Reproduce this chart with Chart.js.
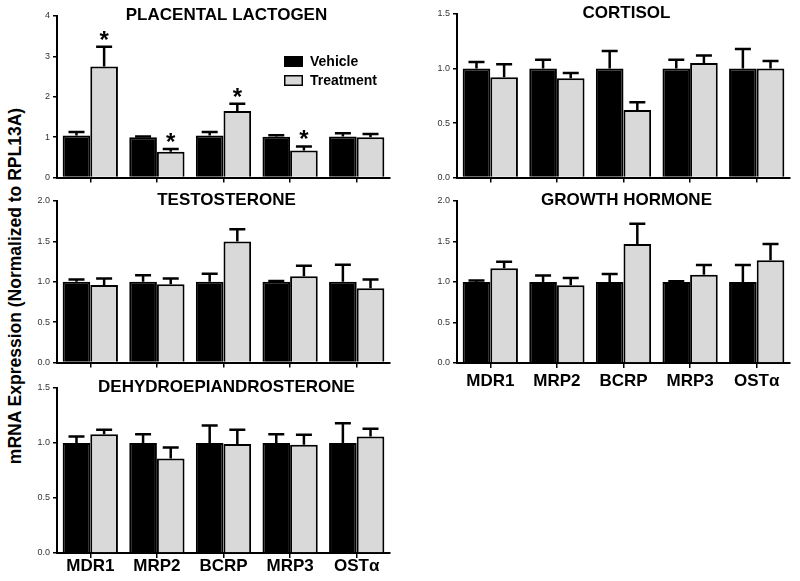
<!DOCTYPE html>
<html>
<head>
<meta charset="utf-8">
<script src="https://cdn.jsdelivr.net/npm/chart.js@4.4.1/dist/chart.umd.min.js"></script>
<style>
  body { margin: 0; background: #fff; }
  #wrap { position: relative; width: 800px; height: 581px; overflow: hidden; font-family: "Liberation Sans", Arial, sans-serif; }
  #wrap canvas { position: absolute; }
  #ytitle {
    position: absolute; left: -185px; top: 276px; width: 400px; height: 20px; line-height: 20px;
    text-align: center; font-weight: bold; font-size: 17.5px; color: #000;
    transform: rotate(-90deg);
  }
</style>
</head>
<body>
<div id="wrap">
  <div id="ytitle">mRNA Expression (Normalized to RPL13A)</div>
  <canvas id="pl" width="368" height="184" style="left:27px;top:2px"></canvas>
  <canvas id="cort" width="370" height="186" style="left:427px;top:0px"></canvas>
  <canvas id="test" width="368" height="184" style="left:27px;top:187px"></canvas>
  <canvas id="gh" width="370" height="206" style="left:427px;top:187px"></canvas>
  <canvas id="dhea" width="368" height="207" style="left:27px;top:374px"></canvas>
</div>
<script>
const categories = ['MDR1', 'MRP2', 'BCRP', 'MRP3', 'OSTα'];
const seriesNames = ['Vehicle', 'Treatment'];

// placental lactogen
const plVehicle = [1.04, 1.00, 1.04, 1.01, 1.02];
const plVehicleErr = [0.09, 0.02, 0.09, 0.04, 0.08];
const plTreatment = [2.75, 0.64, 1.65, 0.67, 1.00];
const plTreatmentErr = [0.49, 0.07, 0.18, 0.10, 0.08];
const plStars = [true, true, true, true, false];

// cortisol
const cortVehicle = [1.00, 1.00, 1.00, 1.00, 1.00];
const cortVehicleErr = [0.06, 0.08, 0.16, 0.08, 0.18];
const cortTreatment = [0.92, 0.91, 0.62, 1.05, 1.00];
const cortTreatmentErr = [0.12, 0.05, 0.07, 0.07, 0.07];

// testosterone
const testVehicle = [1.00, 1.00, 1.00, 1.00, 1.00];
const testVehicleErr = [0.03, 0.08, 0.10, 0.01, 0.21];
const testTreatment = [0.96, 0.97, 1.50, 1.07, 0.92];
const testTreatmentErr = [0.08, 0.07, 0.15, 0.13, 0.11];

// growth hormone
const ghVehicle = [1.00, 1.00, 1.00, 1.00, 1.00];
const ghVehicleErr = [0.02, 0.08, 0.10, 0.01, 0.21];
const ghTreatment = [1.17, 0.96, 1.47, 1.09, 1.27];
const ghTreatmentErr = [0.08, 0.09, 0.25, 0.12, 0.20];

// dehydroepiandrosterone
const dheaVehicle = [1.00, 1.00, 1.00, 1.00, 1.00];
const dheaVehicleErr = [0.06, 0.08, 0.16, 0.08, 0.18];
const dheaTreatment = [1.08, 0.86, 0.99, 0.985, 1.06];
const dheaTreatmentErr = [0.04, 0.10, 0.13, 0.09, 0.07];

const FONT = '"Liberation Sans", Arial, sans-serif';
const GRAY = '#d9d9d9';

// draws the upper whiskers, the asterisks, the panel title and (optionally) the legend
const panelPlugin = {
  id: 'panel',
  afterDatasetsDraw(chart, args, opts) {
    const ctx = chart.ctx;
    const y = chart.scales.y;
    const area = chart.chartArea;
    ctx.save();
    ctx.strokeStyle = '#000';
    ctx.lineWidth = 2.5;
    chart.data.datasets.forEach((ds, di) => {
      const meta = chart.getDatasetMeta(di);
      meta.data.forEach((bar, i) => {
        const top = y.getPixelForValue(ds.data[i] + ds.errors[i]);
        ctx.beginPath();
        ctx.moveTo(bar.x, bar.y);
        ctx.lineTo(bar.x, top);
        ctx.moveTo(bar.x - 8, top);
        ctx.lineTo(bar.x + 8, top);
        ctx.stroke();
        if (ds.stars && ds.stars[i]) {
          ctx.fillStyle = '#000';
          ctx.font = 'bold 24px ' + FONT;
          ctx.textAlign = 'center';
          ctx.textBaseline = 'alphabetic';
          ctx.fillText('*', bar.x, top + 1);
        }
      });
    });

    ctx.fillStyle = '#000';
    ctx.font = 'bold 17px ' + FONT;
    ctx.textAlign = 'center';
    ctx.textBaseline = 'middle';
    ctx.fillText(opts.title, (area.left + area.right) / 2 + 3, area.top - 1);

    if (opts.legend) {
      ctx.font = 'bold 14px ' + FONT;
      ctx.textAlign = 'left';
      chart.data.datasets.forEach((ds, di) => {
        const bx = area.left + 227, by = area.top + 40 + di * 19;
        ctx.fillStyle = ds.backgroundColor;
        ctx.fillRect(bx, by, 19, 11);
        ctx.lineWidth = 1.5;
        ctx.strokeRect(bx + 0.75, by + 0.75, 17.5, 9.5);
        ctx.fillStyle = '#000';
        ctx.fillText(ds.label, bx + 26, by + 6);
      });
    }
    ctx.restore();
  }
};

function makePanel(id, cfg) {
  const datasets = [
    { label: seriesNames[0], data: cfg.vehicle, errors: cfg.vehicleErr, backgroundColor: '#000', borderColor: '#000', borderWidth: 2 },
    { label: seriesNames[1], data: cfg.treatment, errors: cfg.treatmentErr, stars: cfg.stars, backgroundColor: GRAY, borderColor: '#000', borderWidth: 2 }
  ];
  return new Chart(document.getElementById(id), {
    type: 'bar',
    data: { labels: categories, datasets: datasets },
    options: {
      responsive: false,
      animation: false,
      devicePixelRatio: 1,
      layout: { padding: { left: 0, right: cfg.padRight, top: 14, bottom: 0 } },
      datasets: { bar: { categoryPercentage: 0.83, barPercentage: 1.0, borderSkipped: 'start' } },
      plugins: {
        legend: { display: false },
        tooltip: { enabled: false },
        panel: { title: cfg.title, legend: !!cfg.legend }
      },
      scales: {
        x: {
          afterFit: (s) => { s.height = cfg.xHeight; },
          border: { color: '#000', width: 2 },
          grid: { drawOnChartArea: false, offset: false, drawTicks: true, tickLength: 5, color: '#000', lineWidth: 1.5 },
          ticks: {
            display: !!cfg.showLabels,
            padding: cfg.labelPad || 0,
            color: '#000',
            font: { family: FONT, size: 17, weight: 'bold' },
            maxRotation: 0
          }
        },
        y: {
          min: 0,
          max: cfg.max,
          afterFit: (s) => { s.width = 30; },
          border: { color: '#000', width: 2 },
          grid: { drawOnChartArea: false, drawTicks: true, tickLength: 4, color: '#000', lineWidth: 1.5 },
          ticks: {
            stepSize: cfg.step,
            padding: 3,
            color: '#333',
            font: { family: FONT, size: 9 },
            callback: (v) => cfg.decimals ? Number(v).toFixed(1) : String(v)
          }
        }
      }
    },
    plugins: [panelPlugin]
  });
}

makePanel('pl', {
  title: 'PLACENTAL LACTOGEN', vehicle: plVehicle, vehicleErr: plVehicleErr,
  treatment: plTreatment, treatmentErr: plTreatmentErr, stars: plStars,
  max: 4, step: 1, decimals: false, legend: true, xHeight: 8, padRight: 5
});
makePanel('cort', {
  title: 'CORTISOL', vehicle: cortVehicle, vehicleErr: cortVehicleErr,
  treatment: cortTreatment, treatmentErr: cortTreatmentErr,
  max: 1.5, step: 0.5, decimals: true, xHeight: 8, padRight: 7
});
makePanel('test', {
  title: 'TESTOSTERONE', vehicle: testVehicle, vehicleErr: testVehicleErr,
  treatment: testTreatment, treatmentErr: testTreatmentErr,
  max: 2.0, step: 0.5, decimals: true, xHeight: 8, padRight: 5
});
makePanel('gh', {
  title: 'GROWTH HORMONE', vehicle: ghVehicle, vehicleErr: ghVehicleErr,
  treatment: ghTreatment, treatmentErr: ghTreatmentErr,
  max: 2.0, step: 0.5, decimals: true, xHeight: 30, padRight: 7, showLabels: true, labelPad: 3
});
makePanel('dhea', {
  title: 'DEHYDROEPIANDROSTERONE', vehicle: dheaVehicle, vehicleErr: dheaVehicleErr,
  treatment: dheaTreatment, treatmentErr: dheaTreatmentErr,
  max: 1.5, step: 0.5, decimals: true, xHeight: 28, padRight: 5, showLabels: true, labelPad: -2
});
</script>
</body>
</html>
